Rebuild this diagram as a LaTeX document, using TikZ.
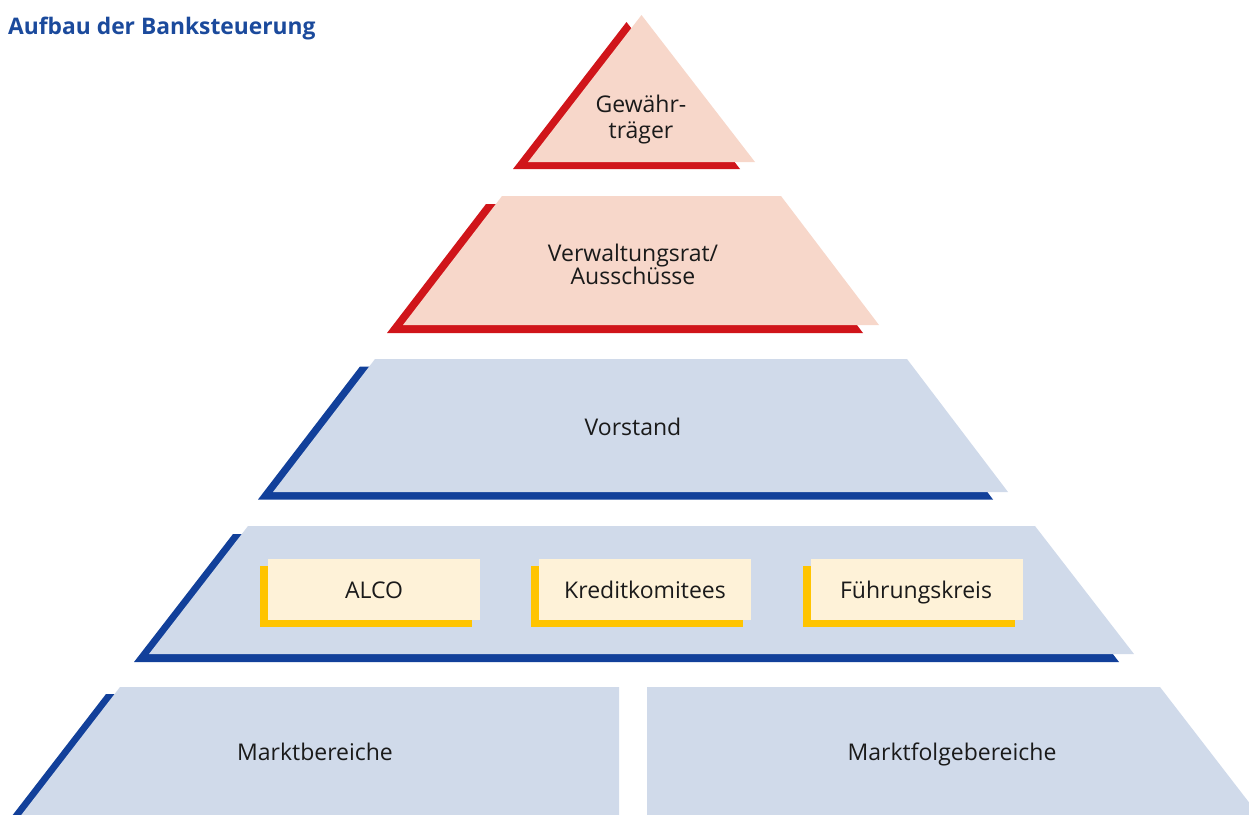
\documentclass[tikz,border=0pt]{standalone}
\usepackage{fontspec}
\setmainfont{Open Sans}
\definecolor{shred}{HTML}{D0151A}
\definecolor{fpink}{HTML}{F7D7CA}
\definecolor{shblue}{HTML}{12409A}
\definecolor{fblue}{HTML}{D0DAEA}
\definecolor{shyel}{HTML}{FFC400}
\definecolor{fyel}{HTML}{FEF2D8}
\definecolor{ttlblue}{HTML}{1B4A9C}
\definecolor{txt}{HTML}{1A1A1A}
\begin{document}
\begin{tikzpicture}[x=1pt,y=-1pt,
  lbl/.style={font=\fontsize{23}{27}\selectfont, text=txt, inner sep=0pt, anchor=base},
  redsh/.style={fill=shred},
  pinkf/.style={fill=fpink},
  bluesh/.style={fill=shblue},
  bluef/.style={fill=fblue},
  yelsh/.style={fill=shyel},
  yelf/.style={fill=fyel}]
\useasboundingbox (0,0) rectangle (1249,814);
\begin{scope}
\clip (0,0) rectangle (1249,814);
% level 1
\fill[redsh, shift={(-15,7)}] (641.5,15) -- (755,162) -- (528,162) -- cycle;
\fill[pinkf] (641.5,15) -- (755,162) -- (528,162) -- cycle;
% level 2
\fill[redsh, shift={(-16,8)}] (502,196) -- (781,196) -- (879,325) -- (403,325) -- cycle;
\fill[pinkf] (502,196) -- (781,196) -- (879,325) -- (403,325) -- cycle;
% level 3
\fill[bluesh, shift={(-15,7.5)}] (375,359) -- (907,359) -- (1008,492) -- (273,492) -- cycle;
\fill[bluef] (375,359) -- (907,359) -- (1008,492) -- (273,492) -- cycle;
% level 4
\fill[bluesh, shift={(-15,8)}] (248,526) -- (1035,526) -- (1134,654) -- (149,654) -- cycle;
\fill[bluef] (248,526) -- (1035,526) -- (1134,654) -- (149,654) -- cycle;
% level 5
\fill[bluesh, shift={(-14,7)}] (120,687) -- (619,687) -- (619,840) -- (2,840) -- cycle;
\fill[bluef] (120,687) -- (619,687) -- (619,840) -- (2,840) -- cycle;
\fill[bluef] (647,687) -- (1160,687) -- (1278,840) -- (647,840) -- cycle;
% yellow boxes
\foreach \bx in {268,539,811}{
  \fill[yelsh, shift={(-8,7)}] (\bx,559) rectangle ++(212,61);
  \fill[yelf] (\bx,559) rectangle ++(212,61);
}
\end{scope}
% texts
\node[font=\fontsize{22.8}{27}\selectfont\bfseries, text=ttlblue, inner sep=0pt, anchor=base west] (title) at (8,34) {Aufbau der Banksteuerung};
\node[lbl] (gew1) at (641,112) {Gewähr-};
\node[lbl] (gew2) at (641,138) {träger};
\node[lbl] (vr1) at (633,261) {Verwaltungsrat/};
\node[lbl] (vr2) at (633,284) {Ausschüsse};
\node[lbl] (vst) at (633,435) {Vorstand};
\node[lbl] (alco) at (374,598) {ALCO};
\node[lbl] (kred) at (645,598) {Kreditkomitees};
\node[lbl] (fuehr) at (916,598) {Führungskreis};
\node[lbl] (mb) at (315,760) {Marktbereiche};
\node[lbl] (mfb) at (952,760) {Marktfolgebereiche};
\end{tikzpicture}
\end{document}
